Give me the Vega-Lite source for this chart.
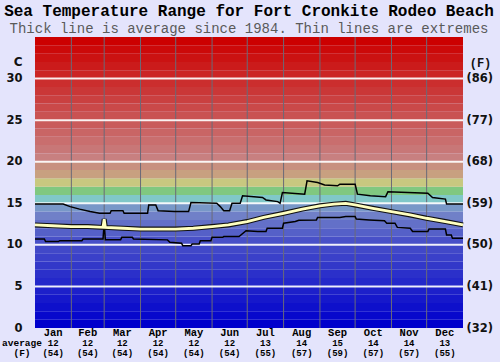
{
  "$schema": "https://vega.github.io/schema/vega-lite/v6.json",
  "width": 428,
  "height": 291,
  "autosize": {"type": "none"},
  "padding": {"left": 35, "top": 37, "right": 37, "bottom": 34},
  "background": "#e4e4fc",
  "config": {"view": {"stroke": null}, "axis": {"grid": false, "ticks": false, "tickSize": 0, "domain": false}},
  "title": {
    "text": "Sea Temperature Range for Fort Cronkite Rodeo Beach",
    "subtitle": "Thick line is average since 1984. Thin lines are extremes",
    "font": "Liberation Mono", "fontSize": 16, "fontWeight": "bold", "color": "#000000",
    "subtitleFont": "Liberation Mono", "subtitleFontSize": 14, "subtitleColor": "#5a5a5a",
    "subtitlePadding": 3, "anchor": "middle", "offset": 1
  },
  "datasets": {
    "bands": [
      {"lo":0,"hi":1},{"lo":1,"hi":2},{"lo":2,"hi":3},{"lo":3,"hi":4},{"lo":4,"hi":5},
      {"lo":5,"hi":6},{"lo":6,"hi":7},{"lo":7,"hi":8},{"lo":8,"hi":9},{"lo":9,"hi":10},
      {"lo":10,"hi":11},{"lo":11,"hi":12},{"lo":12,"hi":13},{"lo":13,"hi":14},{"lo":14,"hi":15},
      {"lo":15,"hi":16},{"lo":16,"hi":17},{"lo":17,"hi":18},{"lo":18,"hi":19},{"lo":19,"hi":20},
      {"lo":20,"hi":21},{"lo":21,"hi":22},{"lo":22,"hi":23},{"lo":23,"hi":24},{"lo":24,"hi":25},
      {"lo":25,"hi":26},{"lo":26,"hi":27},{"lo":27,"hi":28},{"lo":28,"hi":29},{"lo":29,"hi":30},
      {"lo":30,"hi":31},{"lo":31,"hi":32},{"lo":32,"hi":33},{"lo":33,"hi":34},{"lo":34,"hi":35}
    ],
    "bounds": [{"d":31},{"d":59},{"d":90},{"d":120},{"d":151},{"d":181},{"d":212},{"d":243},{"d":273},{"d":304},{"d":334}],
    "grid": [{"t":5},{"t":10},{"t":15},{"t":20},{"t":25},{"t":30}],
    "months": [
      {"m":"Jan","mid":15.5,"c":12,"f":54},{"m":"Feb","mid":45,"c":12,"f":54},{"m":"Mar","mid":74.5,"c":12,"f":54},
      {"m":"Apr","mid":105,"c":12,"f":54},{"m":"May","mid":135.5,"c":12,"f":54},{"m":"Jun","mid":166,"c":12,"f":54},
      {"m":"Jul","mid":196.5,"c":13,"f":55},{"m":"Aug","mid":227.5,"c":14,"f":57},{"m":"Sep","mid":258,"c":15,"f":59},
      {"m":"Oct","mid":288.5,"c":14,"f":57},{"m":"Nov","mid":319,"c":14,"f":57},{"m":"Dec","mid":349.5,"c":13,"f":55}
    ],
    "maxT": [
      {"d":0,"t":14.9},{"d":24,"t":14.9},{"d":30,"t":14.6},{"d":38,"t":14.3},{"d":47,"t":14.0},{"d":55,"t":13.8},
      {"d":64,"t":13.8},{"d":65,"t":14.1},{"d":75,"t":14.1},{"d":76,"t":13.8},{"d":96,"t":13.8},{"d":97,"t":14.8},
      {"d":103,"t":14.8},{"d":105,"t":14.1},{"d":119,"t":14.0},{"d":131,"t":14.0},{"d":133,"t":15.1},{"d":155,"t":15.0},
      {"d":158,"t":14.6},{"d":161,"t":14.1},{"d":166,"t":14.1},{"d":168,"t":15.0},{"d":175,"t":15.0},{"d":177,"t":15.9},
      {"d":194,"t":15.7},{"d":197,"t":15.4},{"d":207,"t":15.2},{"d":209,"t":15.0},{"d":211,"t":16.3},{"d":230,"t":16.1},
      {"d":232,"t":17.7},{"d":241,"t":17.5},{"d":247,"t":17.2},{"d":258,"t":17.1},{"d":260,"t":17.3},{"d":273,"t":17.3},
      {"d":275,"t":16.1},{"d":286,"t":15.9},{"d":299,"t":15.8},{"d":301,"t":16.4},{"d":335,"t":16.2},{"d":339,"t":15.7},
      {"d":350,"t":15.5},{"d":351,"t":14.9},{"d":365,"t":14.9}
    ],
    "minT": [
      {"d":0,"t":10.7},{"d":8,"t":10.7},{"d":9,"t":10.4},{"d":20,"t":10.4},{"d":21,"t":10.5},{"d":40,"t":10.5},
      {"d":41,"t":10.7},{"d":58,"t":10.7},{"d":59,"t":12.6},{"d":60,"t":10.6},{"d":73,"t":10.6},{"d":74,"t":10.9},
      {"d":83,"t":10.9},{"d":84,"t":10.7},{"d":113,"t":10.6},{"d":115,"t":10.3},{"d":125,"t":10.2},{"d":126,"t":9.9},
      {"d":133,"t":9.9},{"d":134,"t":10.1},{"d":140,"t":10.1},{"d":141,"t":10.5},{"d":150,"t":10.5},{"d":151,"t":10.9},
      {"d":160,"t":10.9},{"d":161,"t":11.0},{"d":174,"t":11.0},{"d":180,"t":11.7},{"d":190,"t":11.6},{"d":197,"t":11.6},
      {"d":198,"t":12.0},{"d":211,"t":12.0},{"d":212,"t":12.6},{"d":222,"t":12.8},{"d":225,"t":12.95},{"d":240,"t":13.0},
      {"d":241,"t":13.3},{"d":260,"t":13.3},{"d":265,"t":13.4},{"d":273,"t":13.4},{"d":274,"t":13.1},{"d":285,"t":13.0},
      {"d":298,"t":12.9},{"d":300,"t":12.6},{"d":307,"t":12.6},{"d":309,"t":12.1},{"d":320,"t":12.0},{"d":322,"t":11.6},
      {"d":335,"t":11.6},{"d":336,"t":11.9},{"d":350,"t":11.9},{"d":351,"t":11.2},{"d":355,"t":11.2},{"d":356,"t":10.8},
      {"d":365,"t":10.8}
    ],
    "avgT": [
      {"d":0,"t":12.4},{"d":15,"t":12.3},{"d":31,"t":12.2},{"d":45,"t":12.2},{"d":58,"t":12.1},{"d":59,"t":13.1},
      {"d":60,"t":12.1},{"d":75,"t":12.0},{"d":90,"t":11.9},{"d":105,"t":11.9},{"d":120,"t":11.9},{"d":135,"t":12.0},
      {"d":151,"t":12.2},{"d":165,"t":12.4},{"d":181,"t":12.8},{"d":195,"t":13.3},{"d":212,"t":13.8},{"d":228,"t":14.3},
      {"d":243,"t":14.7},{"d":255,"t":14.9},{"d":265,"t":15.0},{"d":273,"t":14.8},{"d":288,"t":14.4},{"d":304,"t":14.0},
      {"d":320,"t":13.6},{"d":334,"t":13.2},{"d":350,"t":12.8},{"d":365,"t":12.4}
    ]
  },
  "layer": [
    {
      "data": {"name": "bands"},
      "mark": {"type": "rect", "strokeWidth": 0},
      "encoding": {
        "x": {"datum": 0, "type": "quantitative", "scale": {"domain": [0, 365], "nice": false, "zero": false}, "axis": null},
        "x2": {"datum": 365},
        "y": {"field": "lo", "type": "quantitative", "scale": {"domain": [0, 35], "nice": false, "zero": false},
          "axis": {"orient": "left", "values": [0,5,10,15,20,25,30], "labelFont": "DejaVu Sans", "labelFontWeight": "bold",
            "labelFontSize": 11.5, "labelColor": "#111111", "labelPadding": 13,
            "title": "C", "titleAngle": 0, "titleX": -13, "titleY": 24, "titleAlign": "right", "titleBaseline": "middle",
            "titleFont": "DejaVu Sans", "titleFontSize": 12, "titleFontWeight": "bold", "titleColor": "#111111"}},
        "y2": {"field": "hi"},
        "color": {"field": "lo", "type": "quantitative", "legend": null,
          "scale": {"type": "linear", "interpolate": "rgb",
            "domain": [0, 10, 13, 14, 15, 16, 17, 18, 19, 20, 34],
            "range": ["#0000cc", "#4850c8", "#7080c8", "#7898c8", "#80c8c8", "#80c880", "#c8c880", "#c8a080", "#c89080", "#c88080", "#cc0000"]}}
      }
    },
    {
      "data": {"name": "bounds"},
      "mark": {"type": "rule", "color": "#6a6a78", "strokeWidth": 1},
      "encoding": {"x": {"field": "d", "type": "quantitative", "axis": null}}
    },
    {
      "data": {"name": "grid"},
      "mark": {"type": "rule", "color": "#ffffff", "strokeWidth": 2, "opacity": 0.9},
      "encoding": {
        "y": {"field": "t", "type": "quantitative",
          "axis": {"orient": "right", "values": [0,5,10,15,20,25,30],
            "labelExpr": "'(' + format(datum.value * 9 / 5 + 32, 'd') + ')'",
            "labelFont": "DejaVu Sans", "labelFontWeight": "bold", "labelFontSize": 11.5, "labelColor": "#111111", "labelPadding": 3,
            "title": "(F)", "titleAngle": 0, "titleX": 17, "titleY": 25, "titleAlign": "center", "titleBaseline": "middle",
            "titleFont": "Liberation Mono", "titleFontSize": 12, "titleFontWeight": "bold", "titleColor": "#111111"}}
      }
    },
    {
      "data": {"name": "maxT"},
      "mark": {"type": "line", "color": "#000000", "strokeWidth": 1.5},
      "encoding": {"x": {"field": "d", "type": "quantitative", "axis": null}, "y": {"field": "t", "type": "quantitative", "axis": null}}
    },
    {
      "data": {"name": "minT"},
      "mark": {"type": "line", "color": "#000000", "strokeWidth": 1.5},
      "encoding": {"x": {"field": "d", "type": "quantitative", "axis": null}, "y": {"field": "t", "type": "quantitative", "axis": null}}
    },
    {
      "data": {"name": "avgT"},
      "mark": {"type": "line", "color": "#111111", "strokeWidth": 5},
      "encoding": {"x": {"field": "d", "type": "quantitative", "axis": null}, "y": {"field": "t", "type": "quantitative", "axis": null}}
    },
    {
      "data": {"name": "avgT"},
      "mark": {"type": "line", "color": "#ffffc0", "strokeWidth": 2.8},
      "encoding": {"x": {"field": "d", "type": "quantitative", "axis": null}, "y": {"field": "t", "type": "quantitative", "axis": null}}
    },
    {
      "data": {"name": "months"},
      "mark": {"type": "text", "font": "Liberation Mono", "fontWeight": "bold", "fontSize": 10.5, "dy": 5, "baseline": "middle", "align": "center", "color": "#000000"},
      "encoding": {"x": {"field": "mid", "type": "quantitative", "axis": null}, "y": {"datum": 0, "type": "quantitative", "axis": null}, "text": {"field": "m"}}
    },
    {
      "data": {"name": "months"},
      "mark": {"type": "text", "font": "Liberation Mono", "fontWeight": "bold", "fontSize": 9, "dy": 14.5, "baseline": "middle", "align": "center", "color": "#000000"},
      "encoding": {"x": {"field": "mid", "type": "quantitative", "axis": null}, "y": {"datum": 0, "type": "quantitative", "axis": null}, "text": {"field": "c"}}
    },
    {
      "data": {"name": "months"},
      "transform": [{"calculate": "'(' + datum.f + ')'", "as": "ftxt"}],
      "mark": {"type": "text", "font": "Liberation Mono", "fontWeight": "bold", "fontSize": 9, "dy": 24.5, "baseline": "middle", "align": "center", "color": "#000000"},
      "encoding": {"x": {"field": "mid", "type": "quantitative", "axis": null}, "y": {"datum": 0, "type": "quantitative", "axis": null}, "text": {"field": "ftxt"}}
    },
    {
      "data": {"values": [{"label": "average"}]},
      "mark": {"type": "text", "font": "Liberation Mono", "fontWeight": "bold", "fontSize": 9.5, "dx": -13, "dy": 14.5, "baseline": "middle", "align": "center", "color": "#000000"},
      "encoding": {"x": {"datum": 0, "type": "quantitative", "axis": null}, "y": {"datum": 0, "type": "quantitative", "axis": null}, "text": {"field": "label"}}
    },
    {
      "data": {"values": [{"label": "(F)"}]},
      "mark": {"type": "text", "font": "Liberation Mono", "fontWeight": "bold", "fontSize": 9.5, "dx": -13, "dy": 24.5, "baseline": "middle", "align": "center", "color": "#000000"},
      "encoding": {"x": {"datum": 0, "type": "quantitative", "axis": null}, "y": {"datum": 0, "type": "quantitative", "axis": null}, "text": {"field": "label"}}
    }
  ],
  "resolve": {"axis": {"y": "independent"}}
}
